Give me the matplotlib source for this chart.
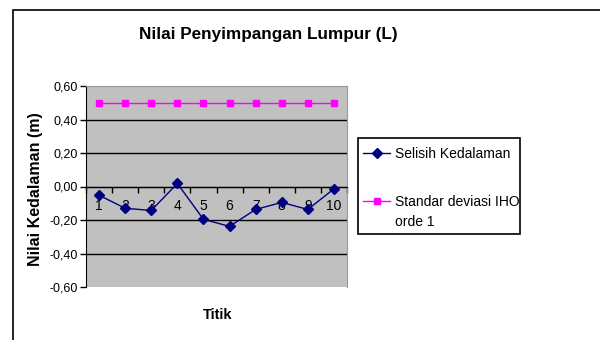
import matplotlib.pyplot as plt
from matplotlib.patches import Rectangle
from matplotlib.ticker import FixedLocator, FuncFormatter

plt.rcParams['font.family'] = ['Liberation Sans', 'DejaVu Sans']

titik = [1, 2, 3, 4, 5, 6, 7, 8, 9, 10]
selisih = [-0.052, -0.13, -0.143, 0.018, -0.196, -0.238, -0.137, -0.095, -0.137, -0.014]
standar = [0.5, 0.5, 0.5, 0.5, 0.5, 0.5, 0.5, 0.5, 0.5, 0.5]
y_ticks = [-0.6, -0.4, -0.2, 0.0, 0.2, 0.4, 0.6]

W, H = 600, 340
fig = plt.figure(figsize=(6, 3.4), dpi=100)
fig.patch.set_facecolor('white')


def px_rect(x0, y0, x1, y1, **kw):
    # rectangle given in pixel coords, origin top-left
    return Rectangle((x0 / W, 1 - y1 / H), (x1 - x0) / W, (y1 - y0) / H,
                     transform=fig.transFigure, fill=False, **kw)


# outer chart frame and legend box
fig.patches.append(px_rect(12.5, 9.5, 620, 360, edgecolor='black', linewidth=1.2))
fig.patches.append(px_rect(357.7, 138, 520, 234, edgecolor='black', linewidth=1.2))

ax = fig.add_axes([86 / W, 53 / H, 261 / W, 201 / H])
ax.set_facecolor('#C0C0C0')

ax.plot(titik, selisih, color='#000080', marker='D', markersize=5,
        linewidth=1, label='Selisih Kedalaman', zorder=4)
ax.plot(titik, standar, color='#FF00FF', marker='s', markersize=5,
        linewidth=1, label='Standar deviasi IHO', zorder=4)

ax.set_xlim(0.5, 10.5)
ax.set_ylim(-0.6, 0.6)

# horizontal gridlines
for v in y_ticks[1:-1]:
    ax.axhline(v, color='black', linewidth=1, zorder=1)

ax.set_yticks(y_ticks)
ax.yaxis.set_major_formatter(FuncFormatter(lambda v, p: f'{v:.2f}'.replace('.', ',').replace('-0,00', '0,00')))
ax.tick_params(axis='y', length=4, width=1, labelsize=9, pad=2, direction='out')

# category axis crosses at zero
ax.spines['bottom'].set_position(('data', 0))
ax.spines['bottom'].set_color('black')
ax.spines['left'].set_color('black')
ax.spines['top'].set_color('#999999')
ax.spines['right'].set_color('#999999')
ax.xaxis.set_major_locator(FixedLocator([i + 0.5 for i in range(11)]))
ax.xaxis.set_major_formatter(FuncFormatter(lambda v, p: ''))
ax.xaxis.set_minor_locator(FixedLocator(titik))
ax.xaxis.set_minor_formatter(FuncFormatter(lambda v, p: f'{int(v)}'))
ax.tick_params(axis='x', which='major', length=4, width=1, direction='out')
ax.tick_params(axis='x', which='minor', length=0, labelsize=10, pad=9)

fig.text(268 / W, 1 - 35 / H, 'Nilai Penyimpangan Lumpur (L)',
         ha='center', va='center', fontsize=12.3, fontweight='bold')
fig.text(36 / W, 1 - 189 / H, 'Nilai Kedalaman (m)', rotation=90,
         ha='center', va='center', fontsize=11.5, fontweight='bold')
fig.text(218 / W, 1 - 315 / H, 'Titik', ha='center', va='center',
         fontsize=10.5, fontweight='bold')

leg = ax.legend(loc='upper left', bbox_to_anchor=(363 / W, 1 - 147 / H),
                bbox_transform=fig.transFigure, frameon=False,
                fontsize=10, handlelength=1.95, handletextpad=0.36,
                labelspacing=2.45, borderpad=0, borderaxespad=0)
# wrapped second line of the second legend entry
fig.text(395 / W, 1 - 222 / H, 'orde 1', ha='left', va='center', fontsize=10)

fig.savefig('out.png', dpi=100)
